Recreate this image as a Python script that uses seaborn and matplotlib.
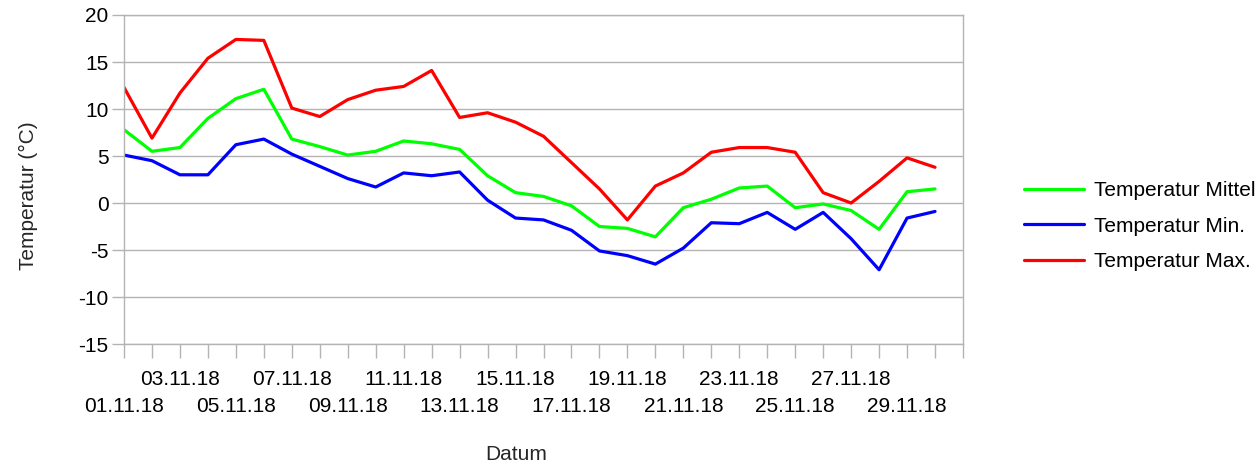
import matplotlib
matplotlib.use("Agg")
import matplotlib.pyplot as plt
import seaborn as sns
import pandas as pd

# daily values, November 2018
days = list(range(1, 31))
t_mittel = [7.8, 5.5, 5.9, 9.0, 11.1, 12.1, 6.8, 6.0, 5.1, 5.5,
            6.6, 6.3, 5.7, 2.9, 1.1, 0.7, -0.3, -2.5, -2.7, -3.6,
            -0.5, 0.4, 1.6, 1.8, -0.5, -0.1, -0.8, -2.8, 1.2, 1.5]
t_min = [5.1, 4.5, 3.0, 3.0, 6.2, 6.8, 5.2, 3.9, 2.6, 1.7,
         3.2, 2.9, 3.3, 0.3, -1.6, -1.8, -2.9, -5.1, -5.6, -6.5,
         -4.8, -2.1, -2.2, -1.0, -2.8, -1.0, -3.8, -7.1, -1.6, -0.9]
t_max = [12.3, 6.9, 11.7, 15.4, 17.4, 17.3, 10.1, 9.2, 11.0, 12.0,
         12.4, 14.1, 9.1, 9.6, 8.6, 7.1, 4.3, 1.5, -1.8, 1.8,
         3.2, 5.4, 5.9, 5.9, 5.4, 1.1, 0.0, 2.3, 4.8, 3.8]
series_names = ["Temperatur Mittel", "Temperatur Min.", "Temperatur Max."]
colors = ["#00ff00", "#0000ff", "#ff0000"]

df = pd.DataFrame({"Tag": days * 3,
                   "Wert": t_mittel + t_min + t_max,
                   "Reihe": [n for n in series_names for _ in days]})

sns.set_style("white")
plt.rcParams['font.family'] = ['Liberation Sans', 'DejaVu Sans']
plt.rcParams['axes.unicode_minus'] = False
plt.rcParams['text.color'] = 'black'
plt.rcParams['xtick.color'] = '#b3b3b3'
plt.rcParams['ytick.color'] = '#b3b3b3'
plt.rcParams['xtick.labelcolor'] = 'black'
plt.rcParams['ytick.labelcolor'] = 'black'

fig = plt.figure(figsize=(12.58, 4.69), dpi=100)
ax = fig.add_axes([124 / 1258, 1 - 344 / 469, (963 - 124) / 1258, (344 - 15) / 469])

sns.lineplot(data=df, x="Tag", y="Wert", hue="Reihe", palette=colors,
             hue_order=series_names, linewidth=2.3, ax=ax)

ax.set_xlim(1, 31)
ax.set_ylim(-15, 20)
ax.set_yticks(range(-15, 21, 5))
ax.yaxis.grid(True, color="#b3b3b3", linewidth=1)

# lower row: 01, 05, 09 ... on major ticks; upper row: 03, 07 ... on minor ticks
low_days = list(range(1, 30, 4))
ax.set_xticks(low_days)
ax.set_xticklabels([f"{d:02d}.11.18" for d in low_days])
minor_days = [d for d in range(1, 32) if d not in low_days]
ax.set_xticks(minor_days, minor=True)
ax.set_xticklabels([f"{d:02d}.11.18" if d % 4 == 3 and d < 30 else "" for d in minor_days],
                   minor=True)

for s in ax.spines.values():
    s.set_color("#b3b3b3")
    s.set_linewidth(1)
ax.tick_params(axis="x", which="major", bottom=True, length=10, width=1,
               direction="out", pad=28.5, labelsize=15)
ax.tick_params(axis="x", which="minor", bottom=True, length=10, width=1,
               direction="out", pad=8.5, labelsize=15)
ax.tick_params(axis="y", left=True, length=9, width=1, direction="out",
               pad=2, labelsize=15)

ax.set_xlabel("Datum", fontsize=15)
ax.xaxis.set_label_coords((516 - 124) / 839, (344 - 445) / 329)
ax.set_ylabel("Temperatur (°C)", fontsize=15)
ax.yaxis.set_label_coords((38 - 124) / 839, (344 - 196) / 329)

handles, labs = ax.get_legend_handles_labels()
ax.legend(handles, labs, loc="center left",
          bbox_to_anchor=((1005 - 124) / 839, (344 - 226) / 329),
          frameon=False, fontsize=15, handlelength=2.9, handletextpad=0.45,
          labelspacing=0.8)

fig.savefig("out.png", dpi=100)
